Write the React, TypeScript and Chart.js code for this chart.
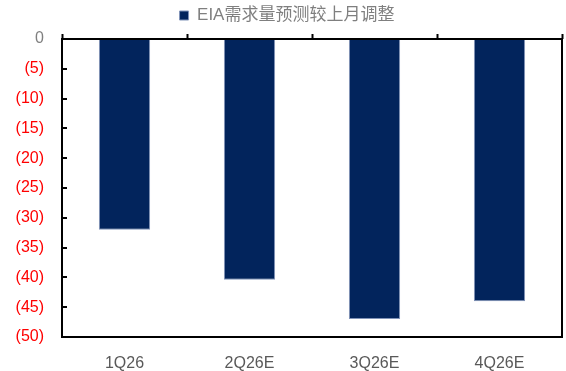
import React, { useEffect, useRef } from "react";
import { Chart, registerables } from "chart.js";
Chart.register(...registerables);

const categories = ["1Q26", "2Q26E", "3Q26E", "4Q26E"];
const seriesName = "EIA需求量预测较上月调整";
const values = [-32, -40.4, -47, -44];
const yMin = -50;
const yMax = 0;
const yStep = 5;

const FONT = '"Liberation Sans", "Noto Sans CJK SC", sans-serif';

const framePlugin = {
  id: "frame",
  afterDraw(chart: any) {
    const { ctx, chartArea: a, scales } = chart;
    const y = scales.y;
    ctx.save();
    ctx.strokeStyle = "#000";
    ctx.lineWidth = 2;
    y.ticks.forEach((t: any) => {
      const py = Math.round(y.getPixelForValue(t.value));
      ctx.beginPath();
      ctx.moveTo(a.left, py);
      ctx.lineTo(a.left + 5, py);
      ctx.stroke();
    });
    ctx.strokeRect(a.left, a.top, a.right - a.left, a.bottom - a.top);
    ctx.restore();
  },
};

export default function App() {
  const ref = useRef<HTMLCanvasElement>(null);
  useEffect(() => {
    const chart = new Chart(ref.current!, {
      type: "bar",
      data: {
        labels: categories,
        datasets: [
          {
            label: seriesName,
            data: values,
            backgroundColor: "#02245C",
            borderColor: "#8093b8",
            borderWidth: 1,
            barPercentage: 0.41,
            categoryPercentage: 1,
            xAxisID: "x",
          },
        ],
      },
      options: {
        animation: false,
        responsive: false,
        maintainAspectRatio: false,
        layout: { padding: { left: 12, right: 4, top: 0, bottom: 0 } },
        plugins: {
          tooltip: { enabled: false },
          legend: {
            position: "top",
            labels: {
              boxWidth: 9,
              boxHeight: 9,
              padding: 7,
              color: "#7f7f7f",
              font: { family: FONT, size: 17 },
            },
          },
        },
        scales: {
          x: {
            type: "category",
            position: "top",
            border: { display: false },
            grid: {
              display: true,
              drawOnChartArea: false,
              drawTicks: true,
              tickLength: 5,
              tickColor: "#000",
              tickWidth: 2,
              offset: true,
            },
            ticks: { display: false },
          },
          x2: {
            type: "category",
            position: "bottom",
            labels: categories,
            offset: true,
            border: { display: false },
            grid: { display: false, drawTicks: false },
            ticks: {
              color: "#595959",
              padding: 17,
              maxRotation: 0,
              minRotation: 0,
              font: { family: FONT, size: 16 },
            },
            afterFit: (s: any) => {
              s.height = 34;
            },
          },
          y: {
            min: yMin,
            max: yMax,
            border: { display: false },
            grid: { display: false, drawTicks: false },
            ticks: {
              stepSize: yStep,
              padding: 18,
              font: { family: FONT, size: 16 },
              color: (c: any) => (c.tick && c.tick.value < 0 ? "#ff0000" : "#7f7f7f"),
              callback: (v: any) => (v < 0 ? `(${-v})` : `${v}`),
            },
            afterFit: (s: any) => {
              s.width = 50;
            },
          },
        },
      },
      plugins: [framePlugin],
    });
    return () => chart.destroy();
  }, []);
  return (
    <div style={{ position: "fixed", left: 0, top: 0, width: 566, height: 371, background: "#fff" }}>
      <canvas ref={ref} width={566} height={371} />
    </div>
  );
}
